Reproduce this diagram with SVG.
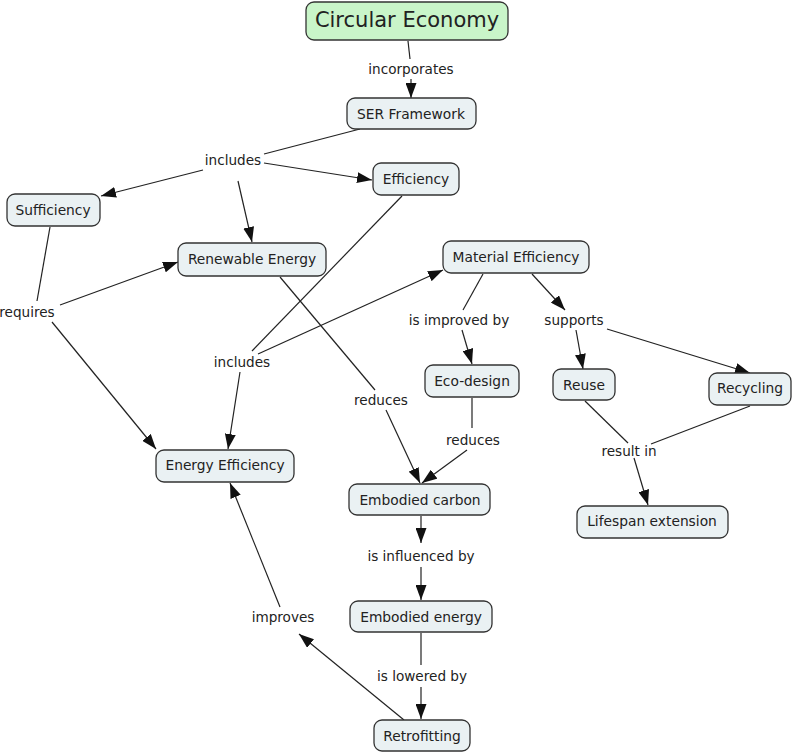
<svg xmlns="http://www.w3.org/2000/svg" width="792" height="753" viewBox="0 0 792 753">
  <style>
    .node rect { fill: #eaf1f3; stroke: #333; stroke-width: 1.3; }
    .node.root rect { fill: #c9f5c9; }
    .node text { font-family: "DejaVu Sans", Verdana, sans-serif; font-size: 13.8px; fill: #222; text-anchor: middle; dominant-baseline: central; }
    .node.root text { font-size: 21px; }
    .lbl { font-family: "DejaVu Sans", Verdana, sans-serif; font-size: 13.6px; fill: #222; text-anchor: middle; dominant-baseline: central; }
    .edges line { stroke: #222; stroke-width: 1.2; fill: none; }
    .edges line.arr { marker-end: url(#ah); }
  </style>
  <defs>
    <marker id="ah" viewBox="0 0 15 11" refX="15" refY="5.5" markerWidth="15" markerHeight="11" orient="auto" markerUnits="userSpaceOnUse">
      <path d="M0,0 L15,5.5 L0,11 z" fill="#111"/>
    </marker>
  </defs>
  <rect width="792" height="753" fill="#fff"/>

  <!-- connectors -->
  <g class="edges">
    <line x1="408" y1="41" x2="410" y2="59"/>
    <line class="arr" x1="411" y1="79" x2="411" y2="98"/>

    <line x1="360" y1="129" x2="264" y2="154"/>
    <line class="arr" x1="203" y1="170" x2="101" y2="196"/>
    <line class="arr" x1="264" y1="163" x2="372" y2="180"/>
    <line class="arr" x1="238" y1="181" x2="252" y2="242"/>

    <line x1="50" y1="227" x2="37" y2="301"/>
    <line class="arr" x1="60" y1="305" x2="178" y2="262"/>
    <line class="arr" x1="52" y1="322" x2="156" y2="449"/>

    <line x1="402" y1="196" x2="252" y2="351"/>
    <line class="arr" x1="258" y1="354" x2="443" y2="270"/>
    <line class="arr" x1="240" y1="372" x2="228" y2="449"/>

    <line x1="280" y1="277" x2="375" y2="390"/>
    <line class="arr" x1="386" y1="410" x2="420" y2="483"/>

    <line x1="483" y1="274" x2="463" y2="310"/>
    <line class="arr" x1="462" y1="330" x2="472" y2="364"/>

    <line class="arr" x1="532" y1="274" x2="565" y2="310"/>
    <line class="arr" x1="576" y1="330" x2="583" y2="369"/>
    <line class="arr" x1="607" y1="329" x2="750" y2="373"/>

    <line x1="472" y1="398" x2="472" y2="428"/>
    <line class="arr" x1="467" y1="450" x2="422" y2="483"/>

    <line x1="585" y1="401" x2="628" y2="443"/>
    <line x1="750" y1="406" x2="651" y2="444"/>
    <line class="arr" x1="634" y1="458" x2="648" y2="505"/>

    <line class="arr" x1="421" y1="516" x2="421" y2="543"/>
    <line class="arr" x1="421" y1="567" x2="421" y2="600"/>

    <line x1="421" y1="633" x2="421" y2="665"/>
    <line class="arr" x1="421" y1="687" x2="421" y2="719"/>

    <line class="arr" x1="404" y1="720" x2="299" y2="634"/>
    <line class="arr" x1="280" y1="607" x2="230" y2="483"/>
  </g>

  <!-- linking phrases -->
  <g id="labels">
    <text class="lbl" x="411" y="69">incorporates</text>
    <text class="lbl" x="233" y="160">includes</text>
    <text class="lbl" x="27" y="312">requires</text>
    <text class="lbl" x="242" y="362">includes</text>
    <text class="lbl" x="381" y="400">reduces</text>
    <text class="lbl" x="459" y="320">is improved by</text>
    <text class="lbl" x="574" y="320">supports</text>
    <text class="lbl" x="473" y="440">reduces</text>
    <text class="lbl" x="629" y="451">result in</text>
    <text class="lbl" x="421" y="556">is influenced by</text>
    <text class="lbl" x="283" y="617">improves</text>
    <text class="lbl" x="422" y="676">is lowered by</text>
  </g>

  <!-- concepts -->
  <g id="circular-economy" class="node root"><rect x="306" y="2" width="202" height="38" rx="8"/><text x="407" y="20">Circular Economy</text></g>
  <g id="ser-framework" class="node"><rect x="347" y="98" width="129" height="31" rx="8"/><text x="411" y="114">SER Framework</text></g>
  <g id="sufficiency" class="node"><rect x="7" y="194" width="93" height="32" rx="8"/><text x="53" y="210">Sufficiency</text></g>
  <g id="efficiency" class="node"><rect x="373" y="163" width="86" height="32" rx="8"/><text x="416" y="179">Efficiency</text></g>
  <g id="renewable-energy" class="node"><rect x="178" y="243" width="148" height="33" rx="8"/><text x="252" y="259">Renewable Energy</text></g>
  <g id="material-efficiency" class="node"><rect x="443" y="241" width="146" height="32" rx="8"/><text x="516" y="257">Material Efficiency</text></g>
  <g id="eco-design" class="node"><rect x="425" y="365" width="94" height="32" rx="8"/><text x="472" y="381">Eco-design</text></g>
  <g id="reuse" class="node"><rect x="553" y="369" width="62" height="31" rx="8"/><text x="584" y="385">Reuse</text></g>
  <g id="recycling" class="node"><rect x="709" y="373" width="82" height="32" rx="8"/><text x="750" y="388">Recycling</text></g>
  <g id="energy-efficiency" class="node"><rect x="156" y="450" width="138" height="32" rx="8"/><text x="225" y="465">Energy Efficiency</text></g>
  <g id="embodied-carbon" class="node"><rect x="349" y="484" width="141" height="31" rx="8"/><text x="420" y="500">Embodied carbon</text></g>
  <g id="lifespan-extension" class="node"><rect x="577" y="506" width="151" height="32" rx="8"/><text x="652" y="521">Lifespan extension</text></g>
  <g id="embodied-energy" class="node"><rect x="350" y="601" width="142" height="31" rx="8"/><text x="421" y="617">Embodied energy</text></g>
  <g id="retrofitting" class="node"><rect x="374" y="720" width="96" height="31" rx="8"/><text x="422" y="736">Retrofitting</text></g>
</svg>
